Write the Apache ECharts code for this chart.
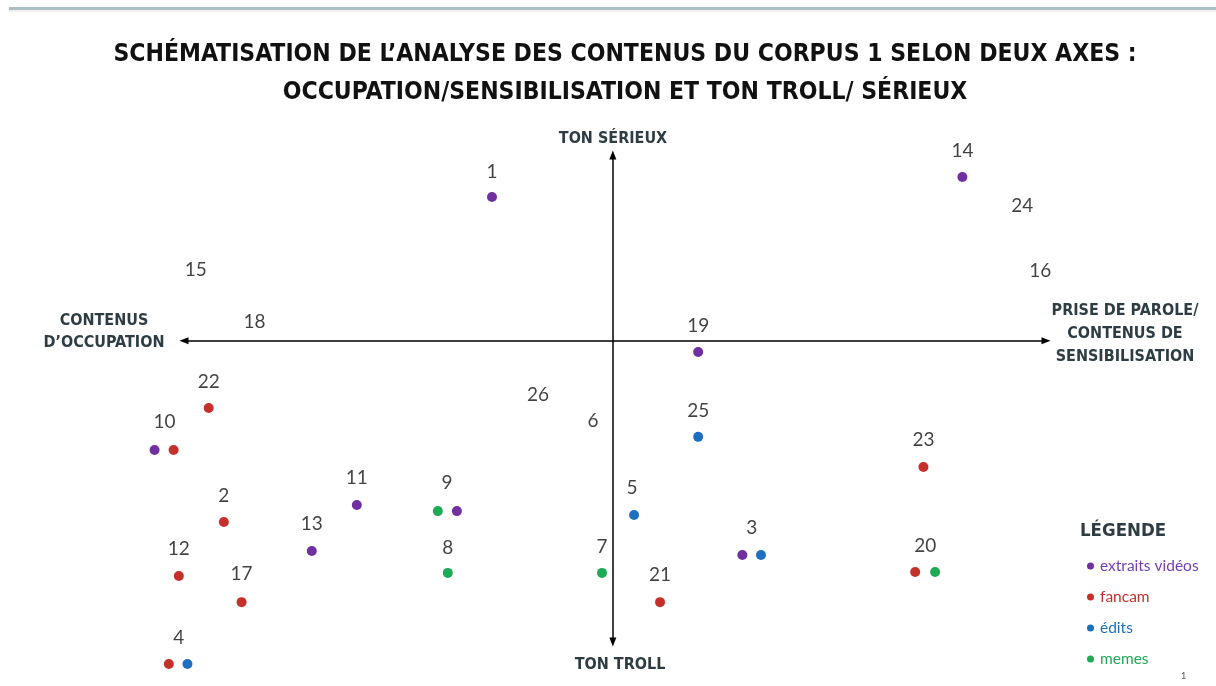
<!DOCTYPE html>
<html>
<head>
<meta charset="utf-8">
<script src="https://cdn.jsdelivr.net/npm/echarts@6/dist/echarts.min.js"></script>
<style>
  html, body { margin: 0; padding: 0; background: #fff; }
  #main { width: 1216px; height: 686px; }
</style>
</head>
<body>
<div id="main"></div>
<script>
// positions on the two axes: x = occupation (-) / sensibilisation (+), y = troll (-) / sérieux (+)
const extraitsVideos = [[-27.9, 47.2], [80.7, 53.8], [19.7, -3.7], [-105.8, -35.9], [-59.1, -54.0],
  [-36.0, -56.0], [-69.5, -69.1], [29.9, -70.4]];
const fancam = [[-93.3, -22.1], [-101.4, -35.9], [71.7, -41.5], [-89.8, -59.6], [-100.2, -77.3],
  [69.8, -76.0], [-85.7, -85.9], [10.9, -85.9], [-102.5, -106.2]];
const edits = [[19.7, -31.6], [4.9, -57.3], [34.2, -70.4], [-98.2, -106.2]];
const memes = [[-40.4, -56.0], [-38.1, -76.3], [-2.5, -76.3], [74.4, -76.0]];

// numéros des contenus [x, y, numéro]
const numeros = [
  [-27.9, 55.4, '1'], [80.7, 62.3, '14'], [94.5, 44.3, '24'], [98.7, 22.9, '16'],
  [-96.3, 23.2, '15'], [-82.7, 6.1, '18'], [19.7, 4.8, '19'], [-93.3, -13.6, '22'],
  [-17.3, -17.8, '26'], [-4.6, -26.4, '6'], [19.7, -23.1, '25'], [-103.5, -26.7, '10'],
  [71.7, -32.6, '23'], [-59.1, -45.1, '11'], [-89.8, -51.0, '2'], [-38.3, -46.8, '9'],
  [4.4, -48.4, '5'], [-69.5, -60.2, '13'], [32.1, -61.5, '3'], [-100.2, -68.4, '12'],
  [-38.1, -68.1, '8'], [-2.5, -67.8, '7'], [72.1, -67.4, '20'], [-85.7, -76.7, '17'],
  [10.9, -77.0, '21'], [-100.2, -97.7, '4']
];

const colors = { video: '#7030a0', fancam: '#c5312a', edits: '#1f6fc0', memes: '#1faa55' };
const narrow = "'DejaVu Sans Condensed', 'DejaVu Sans', sans-serif";
const humanist = "Lato, 'Open Sans', sans-serif";
const slate = '#2e3d44';

var myChart = echarts.init(document.getElementById('main'));

function dots(name, data, color) {
  return {
    name: name,
    type: 'scatter',
    data: data,
    symbolSize: 10,
    clip: false,
    itemStyle: { color: color, opacity: 1 },
    emphasis: { disabled: true }
  };
}

var option = {
  animation: false,
  backgroundColor: '#fff',
  title: [
    {
      text: "SCHÉMATISATION DE L’ANALYSE DES CONTENUS DU CORPUS 1 SELON DEUX AXES :\nOCCUPATION/SENSIBILISATION ET TON TROLL/ SÉRIEUX",
      left: 620, top: 31, textAlign: 'center',
      textStyle: { fontFamily: narrow, fontSize: 24.5, fontWeight: 'bold', color: '#111', lineHeight: 38 }
    },
    {
      text: 'LÉGENDE',
      left: 1075, top: 517,
      textStyle: { fontFamily: narrow, fontSize: 18.5, fontWeight: 'bold', color: slate }
    }
  ],
  legend: {
    orient: 'vertical',
    left: 1082, top: 553,
    icon: 'circle',
    itemWidth: 7, itemHeight: 7,
    itemGap: 15,
    selectedMode: false,
    data: [
      { name: 'extraits vidéos', textStyle: { color: '#7440b0' } },
      { name: 'fancam', textStyle: { color: colors.fancam } },
      { name: 'édits', textStyle: { color: colors.edits } },
      { name: 'memes', textStyle: { color: colors.memes } }
    ],
    textStyle: { fontFamily: humanist, fontSize: 15.5, padding: [0, 0, 0, 1] }
  },
  grid: { left: 184, right: 170, top: 155, bottom: 44 },
  xAxis: {
    type: 'value', min: -99, max: 100,
    axisLine: { onZero: true, symbol: ['triangle', 'triangle'], symbolSize: [7, 9],
      lineStyle: { color: '#000', width: 1.5 } },
    axisTick: { show: false }, axisLabel: { show: false }, splitLine: { show: false }
  },
  yAxis: {
    type: 'value', min: -99, max: 61,
    axisLine: { onZero: true, symbol: ['triangle', 'triangle'], symbolSize: [7, 9],
      lineStyle: { color: '#000', width: 1.5 } },
    axisTick: { show: false }, axisLabel: { show: false }, splitLine: { show: false }
  },
  graphic: [
    { type: 'rect', left: 9, top: 7, shape: { width: 1207, height: 3 }, style: { fill: '#a9c0c4' } },
    { type: 'rect', left: 9, top: 10, shape: { width: 1207, height: 2 }, style: { fill: '#f6eeee' } },
    { type: 'text', x: 613, y: 139, style: { text: 'TON SÉRIEUX', font: "bold 16px " + narrow, fill: slate, align: 'center', verticalAlign: 'middle' } },
    { type: 'text', x: 620, y: 665, style: { text: 'TON TROLL', font: "bold 16px " + narrow, fill: slate, align: 'center', verticalAlign: 'middle' } },
    { type: 'text', x: 104, y: 332, style: { text: 'CONTENUS\nD’OCCUPATION', font: "bold 16px " + narrow, fill: slate, align: 'center', verticalAlign: 'middle', lineHeight: 22 } },
    { type: 'text', x: 1125, y: 334, style: { text: 'PRISE DE PAROLE/\nCONTENUS DE\nSENSIBILISATION', font: "bold 16px " + narrow, fill: slate, align: 'center', verticalAlign: 'middle', lineHeight: 23 } },
    { type: 'text', x: 1181, y: 672, style: { text: '1', font: "9px " + humanist, fill: '#555' } }
  ],
  series: [
    dots('extraits vidéos', extraitsVideos, colors.video),
    dots('fancam', fancam, colors.fancam),
    dots('édits', edits, colors.edits),
    dots('memes', memes, colors.memes),
    {
      name: 'numeros',
      type: 'scatter',
      data: numeros,
      symbolSize: 1,
      clip: false,
      itemStyle: { color: 'rgba(0,0,0,0)' },
      emphasis: { disabled: true },
      label: {
        show: true, position: 'inside',
        formatter: p => p.value[2],
        fontFamily: humanist, fontSize: 19, color: '#111'
      }
    }
  ]
};

myChart.setOption(option);
</script>
</body>
</html>
